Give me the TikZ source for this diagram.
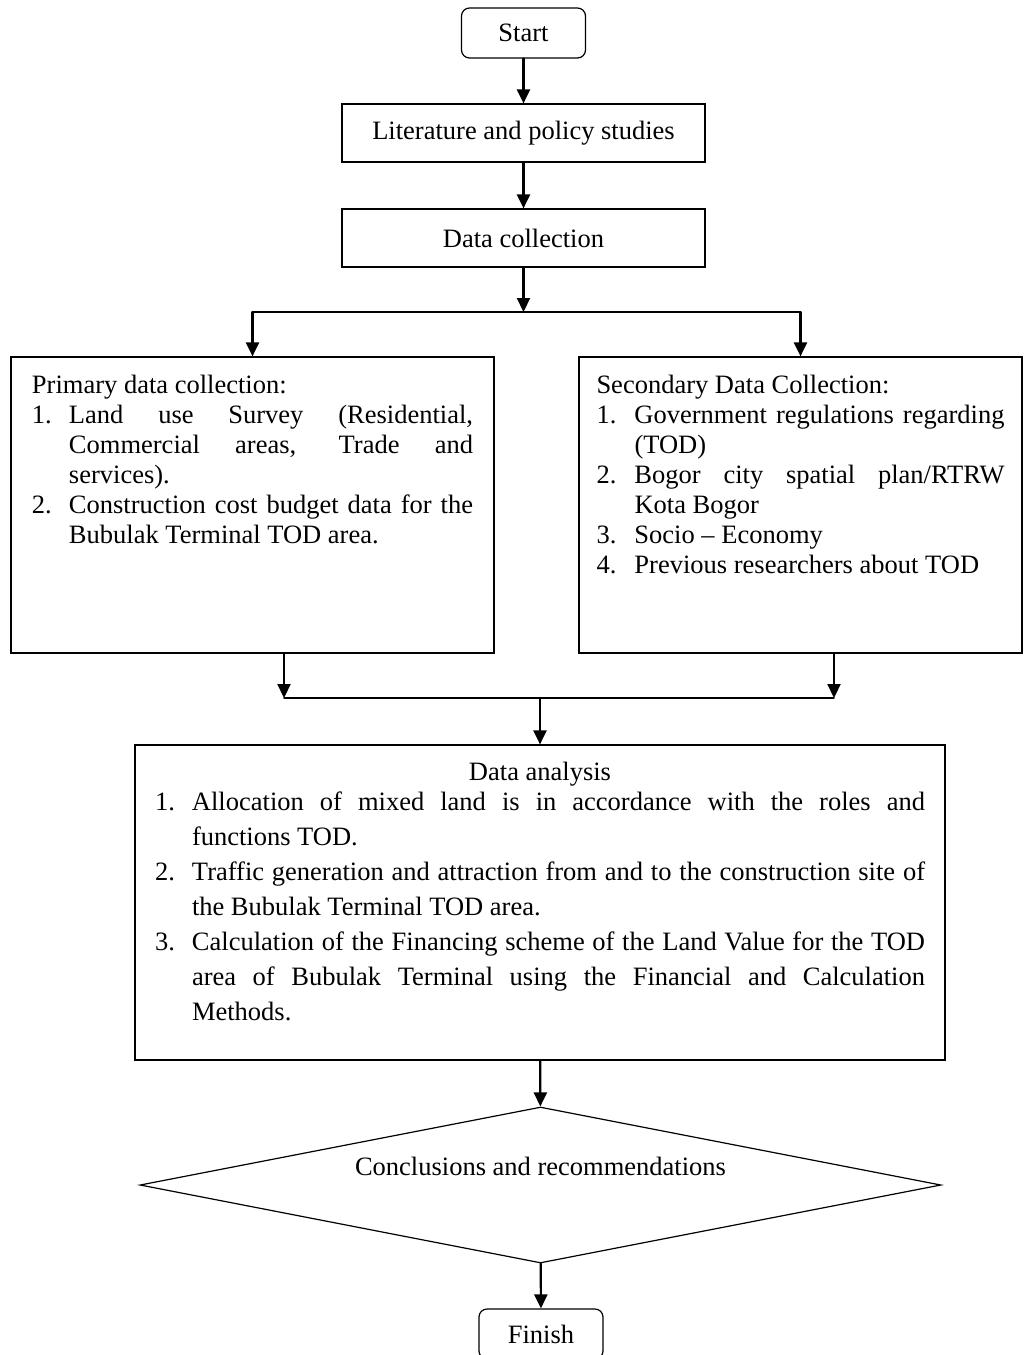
\documentclass[tikz,border=0pt]{standalone}
\usepackage{fontspec}
\setmainfont{Liberation Serif}
\usetikzlibrary{arrows.meta,shapes.geometric}
\hyphenpenalty=10000
\exhyphenpenalty=10000
\newlength{\itemind}
\newcommand{\justifyall}{\leftskip=0pt\rightskip=0pt\parfillskip=0pt plus 1fil\spaceskip=0pt\xspaceskip=0pt\relax}
\newcommand{\listitem}[2]{\par\noindent\hangindent=\itemind\hangafter=1\makebox[\itemind][l]{#1}#2}
\tikzset{
  startend/.style={draw, line width=0.6pt, rounded corners=4pt, minimum width=62pt, minimum height=25pt},
  flowbox/.style={draw, line width=0.6pt, minimum width=181.5pt, minimum height=29pt},
  listbox/.style={draw, line width=0.6pt, inner ysep=0pt, align=justify},
  decision/.style={draw, diamond, line width=0.6pt, aspect=5.13, inner sep=0pt, minimum width=400.5pt, minimum height=78pt},
  arrowline/.style={->, line width=1.1pt},
  joinline/.style={line width=0.7pt}
}

\begin{document}
\begin{tikzpicture}[x=0.5pt, y=-0.5pt, >={Triangle[length=7pt,width=6.5pt]}, line cap=round,
  every node/.style={font=\fontsize{13.25}{15}\selectfont}]
\useasboundingbox (0,0) rectangle (1023,1355);
% start, literature, data collection
\node[startend] (start) at (523.5,33) {Start};
\node[flowbox] (lit) at (523.5,133) {Literature and policy studies};
\node[flowbox] (collect) at (523.5,238) {Data collection};
% primary and secondary data
\node[listbox, text width=220.5pt, inner xsep=10.5pt, minimum height=148pt] (primary) at (252.5,505)
  {\setlength{\itemind}{18.5pt}\parbox[t][130pt][t]{\linewidth}{\justifyall Primary data collection:
   \listitem{1.}{Land use Survey (Residential, Commercial areas, Trade and services).}
   \listitem{2.}{Construction cost budget data for the Bubulak Terminal TOD area.}}};
\node[listbox, text width=204pt, inner xsep=8.75pt, minimum height=148pt] (secondary) at (800.5,505)
  {\setlength{\itemind}{19pt}\parbox[t][130pt][t]{\linewidth}{\justifyall Secondary Data Collection:
   \listitem{1.}{Government regulations regarding (TOD)}
   \listitem{2.}{Bogor city spatial plan/RTRW Kota Bogor}
   \listitem{3.}{Socio -- Economy}
   \listitem{4.}{Previous researchers about TOD}}};
% data analysis
\node[listbox, text width=385pt, inner xsep=10pt, minimum height=157.5pt] (analysis) at (540,902.5)
  {\setlength{\itemind}{18.5pt}\parbox[t][140.5pt][t]{\linewidth}{\fontsize{13.25}{17.5}\selectfont
   {\centering Data analysis\par}\vspace{-2.5pt}\justifyall
   \listitem{1.}{Allocation of mixed land is in accordance with the roles and\linebreak functions TOD.}
   \listitem{2.}{Traffic generation and attraction from and to the construction site of the Bubulak Terminal TOD area.}
   \listitem{3.}{Calculation of the Financing scheme of the Land Value for the TOD\linebreak area of Bubulak Terminal using the Financial and Calculation\linebreak Methods.}}};
% conclusion and finish
\node[decision] (decide) at (540.5,1185) {\raisebox{18.5pt}{Conclusions and recommendations}};
\node[startend] (finish) at (541,1334) {Finish};
% connectors
\coordinate (fork) at (523.5,312);
\coordinate (joinL) at (284,698);
\coordinate (joinR) at (834,698);
\coordinate (join) at (540,698);
\draw[arrowline] (start) -- (lit);
\draw[arrowline] (lit) -- (collect);
\draw[arrowline] (collect) -- (fork);
\draw[joinline] (primary.north |- fork) -- (secondary.north |- fork);
\draw[arrowline] (primary.north |- fork) -- (primary);
\draw[arrowline] (secondary.north |- fork) -- (secondary);
\draw[arrowline] (primary.south -| joinL) -- (joinL);
\draw[arrowline] (secondary.south -| joinR) -- (joinR);
\draw[joinline] (joinL) -- (joinR);
\draw[arrowline] (join) -- (analysis);
\draw[arrowline] (analysis) -- (decide);
\draw[arrowline] (decide) -- (finish);
\end{tikzpicture}
\end{document}
